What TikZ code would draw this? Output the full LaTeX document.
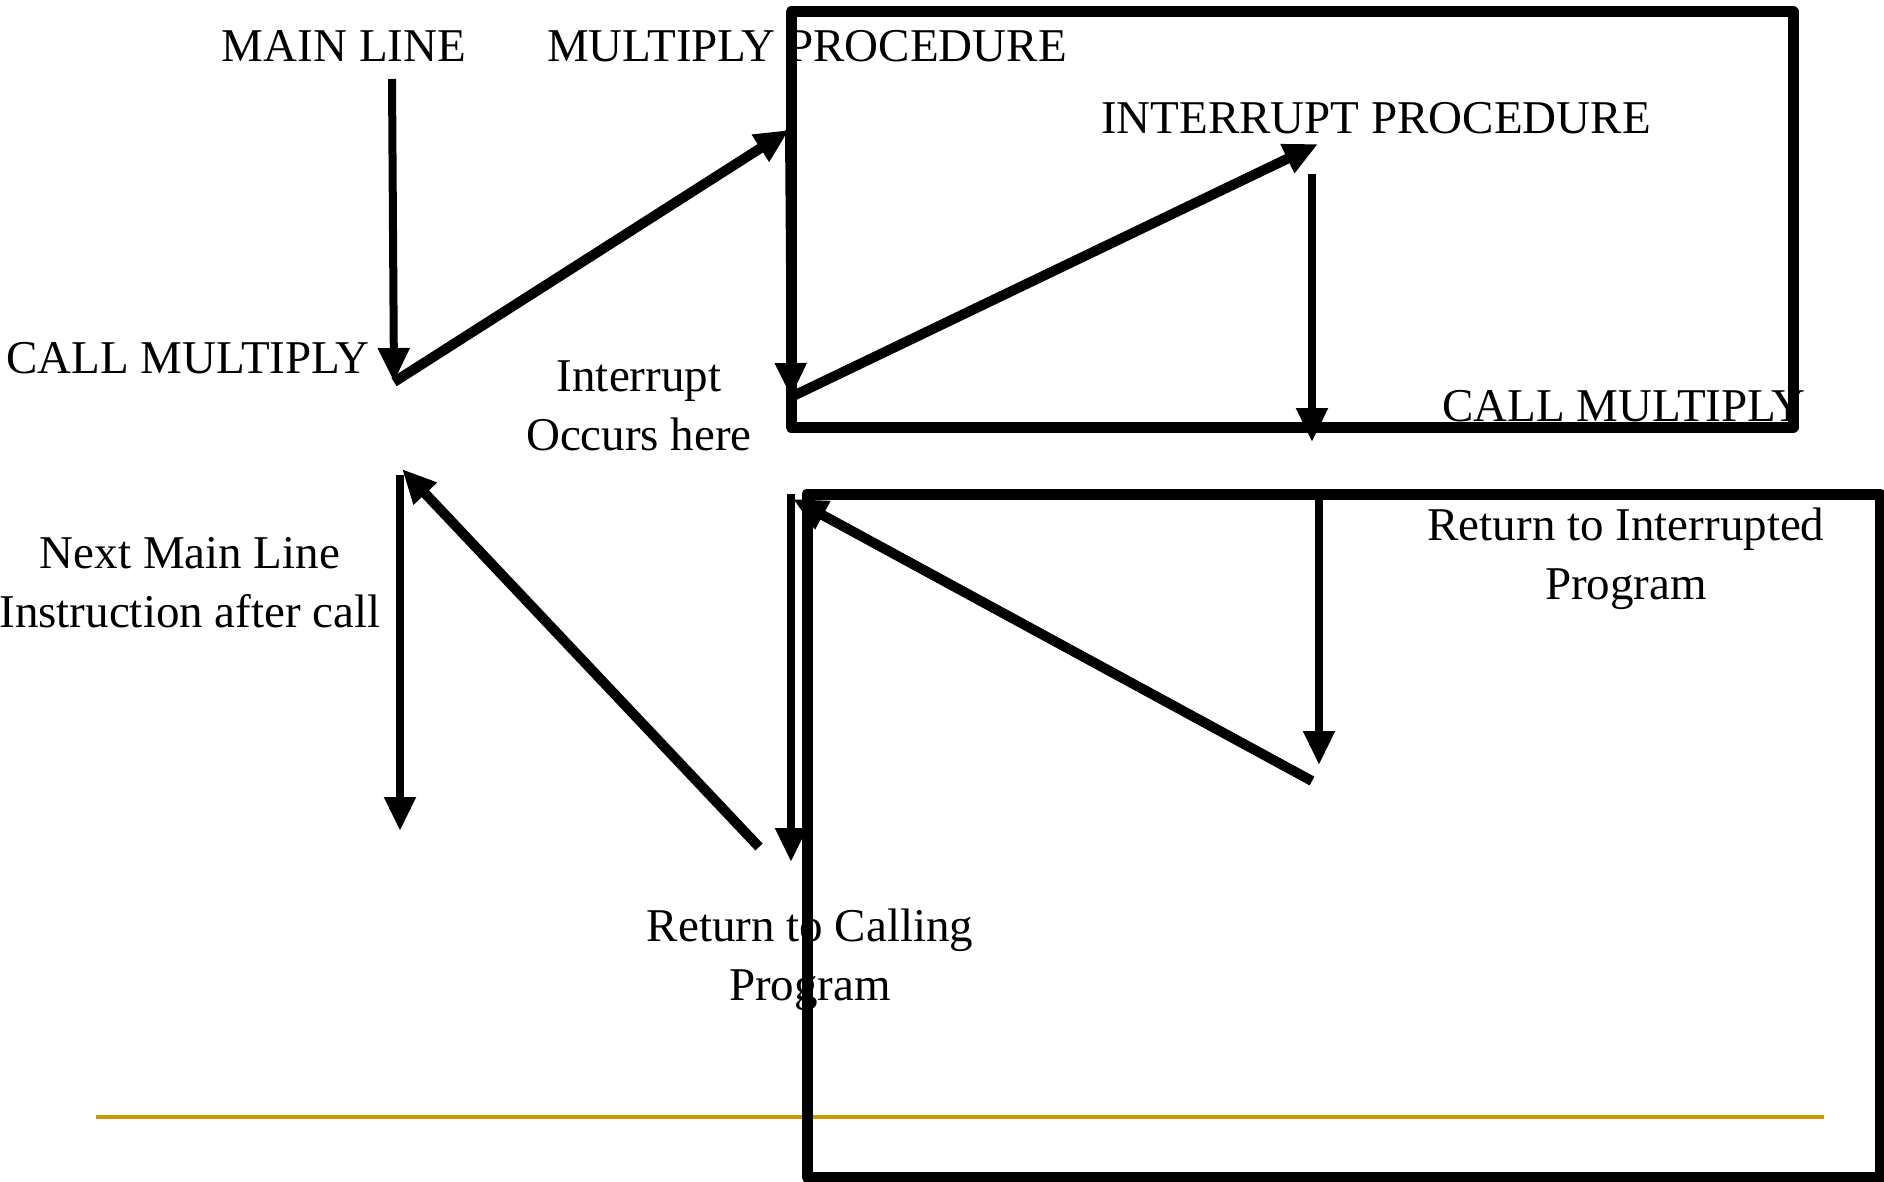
\documentclass[tikz,border=0pt]{standalone}
\usepackage{fontspec}
\setmainfont{Liberation Serif}
\usepackage{tikz}
\usetikzlibrary{arrows.meta}

\definecolor{ruleGold}{HTML}{CC9900}

\begin{document}
\begin{tikzpicture}[
x=1pt, y=-1pt,
every node/.style={font=\fontsize{47}{59}\selectfont, align=center, inner sep=0pt},
flow/.style={line width=10pt, -{Triangle[length=34pt, width=30pt]}},
thinflow/.style={line width=8pt, -{Triangle[length=34pt, width=30pt]}},
procbox/.style={draw, line width=11pt, line join=round}
]
\useasboundingbox (0,0) rectangle (1884,1182);

% rule at the bottom
\draw[ruleGold, line width=4pt] (96,1117) -- (1824,1117);

% procedure boxes
\draw[procbox] (791,12) rectangle (1793,427);
\draw[procbox] (807,494) rectangle (1880,1177);

% points of the flow
\coordinate (mainTop) at (392,79);
\coordinate (mainCall) at (394,382);
\coordinate (mulEntry) at (789,130);
\coordinate (mulIrq) at (791,397);
\coordinate (irqEntry) at (1318,144);
\coordinate (irqTop) at (1312,174);
\coordinate (irqCall) at (1312,442);
\coordinate (irqRetTop) at (1319,499);
\coordinate (irqRetEnd) at (1319,765);
\coordinate (irqBack) at (1312,781);
\coordinate (mulResume) at (793,499);
\coordinate (mulTop) at (791,494);
\coordinate (mulEnd) at (791,862);
\coordinate (mulRet) at (759,847);
\coordinate (mainBack) at (402,469);
\coordinate (mainNext) at (400,475);
\coordinate (mainEnd) at (400,831);

% labels
\node (mainLbl) at (344,46) {MAIN LINE};
\node (mulLbl) at (807,46) {MULTIPLY PROCEDURE};
\node (callLbl) at (188,358) {CALL MULTIPLY};
\node (irqLbl) at (639,406) {Interrupt\\Occurs here};
\node (irqProcLbl) at (1376,118) {INTERRUPT PROCEDURE};
\node (callLbl2) at (1624,406) {CALL MULTIPLY};
\node (nextLbl) at (190,583) {Next Main Line\\Instruction after call};
\node (retCallLbl) at (810,960) {Return to Calling\\Program};
\node (retIrqLbl) at (1626,559) {Return to Interrupted\\Program};

% arrows
\draw[thinflow] (mainTop) -- (mainCall);
\draw[flow] (mainCall) -- (mulEntry);
\draw[thinflow] (mulEntry) -- (mulIrq);
\draw[flow] (mulIrq) -- (irqEntry);
\draw[thinflow] (irqTop) -- (irqCall);
\draw[thinflow] (irqRetTop) -- (irqRetEnd);
\draw[flow] (irqBack) -- (mulResume);
\draw[thinflow] (mulTop) -- (mulEnd);
\draw[flow] (mulRet) -- (mainBack);
\draw[thinflow] (mainNext) -- (mainEnd);

\end{tikzpicture}
\end{document}
